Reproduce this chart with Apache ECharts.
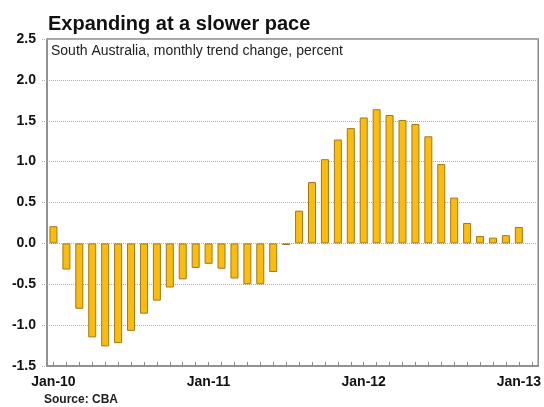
<!DOCTYPE html>
<html>
<head>
<meta charset="utf-8">
<script src="https://cdn.jsdelivr.net/npm/echarts@6/dist/echarts.min.js"></script>
<style>
  html, body { margin: 0; padding: 0; background: #fff; }
  #chart { width: 544px; height: 407px; }
</style>
</head>
<body>
<div id="chart"></div>
<script>
// Monthly categories, Jan-10 to Feb-13 (the last slot is left empty)
const months = [
  'Jan-10','Feb-10','Mar-10','Apr-10','May-10','Jun-10','Jul-10','Aug-10','Sep-10','Oct-10','Nov-10','Dec-10',
  'Jan-11','Feb-11','Mar-11','Apr-11','May-11','Jun-11','Jul-11','Aug-11','Sep-11','Oct-11','Nov-11','Dec-11',
  'Jan-12','Feb-12','Mar-12','Apr-12','May-12','Jun-12','Jul-12','Aug-12','Sep-12','Oct-12','Nov-12','Dec-12',
  'Jan-13','Feb-13'
];

// South Australia, monthly trend change, percent
const trendChange = [
  0.21, -0.32, -0.80, -1.15, -1.26, -1.22, -1.07, -0.86, -0.70, -0.54, -0.44, -0.30,
  -0.25, -0.31, -0.43, -0.50, -0.50, -0.35, -0.02, 0.40, 0.75, 1.03, 1.27, 1.41,
  1.54, 1.64, 1.57, 1.51, 1.46, 1.31, 0.97, 0.56, 0.25, 0.09, 0.07, 0.10,
  0.20, null
];

// Value axis ticks
const yTicks = [-1.5, -1.0, -0.5, 0.0, 0.5, 1.0, 1.5, 2.0, 2.5];

const FONT = 'Liberation Sans, Arial, sans-serif';
const chart = echarts.init(document.getElementById('chart'), null, { renderer: 'canvas' });

chart.setOption({
  backgroundColor: '#ffffff',
  animation: false,
  textStyle: { fontFamily: FONT },
  title: [
    {
      text: 'Expanding at a slower pace',
      left: 48, top: 14, padding: 0,
      textStyle: { fontSize: 20, fontWeight: 'bold', color: '#111', fontFamily: FONT }
    },
    {
      text: 'South Australia, monthly trend change, percent',
      left: 51, top: 44, padding: 0,
      textStyle: { fontSize: 14, fontWeight: 'normal', color: '#222', fontFamily: FONT }
    },
    {
      text: 'Source: CBA',
      left: 44, top: 394, padding: 0,
      textStyle: { fontSize: 12, fontWeight: 'bold', color: '#222', fontFamily: FONT }
    }
  ],
  grid: {
    left: 47, right: 5, top: 39, bottom: 41,
    show: true, borderColor: '#8a8a8a', borderWidth: 1.5, backgroundColor: 'transparent'
  },
  xAxis: {
    type: 'category',
    data: months,
    boundaryGap: true,
    axisLine: { show: true, onZero: false, lineStyle: { color: '#8a8a8a', width: 1.5 } },
    axisTick: {
      show: true, inside: true, length: 4, interval: 0, alignWithLabel: true,
      lineStyle: { color: '#8a8a8a', width: 1 }
    },
    axisLabel: {
      interval: function (i) { return i % 12 === 0; },
      color: '#111', fontSize: 14, fontWeight: 'bold', margin: 9,
      fontFamily: FONT
    },
    splitLine: { show: false }
  },
  yAxis: {
    type: 'value',
    min: yTicks[0], max: yTicks[yTicks.length - 1], interval: 0.5,
    axisLine: { show: true, lineStyle: { color: '#8a8a8a', width: 1.5 } },
    axisTick: { show: true, length: 6, lineStyle: { color: '#b0b0b0', type: 'dotted' } },
    axisLabel: {
      formatter: function (v) { return v.toFixed(1); },
      color: '#111', fontSize: 14, fontWeight: 'bold', margin: 11,
      fontFamily: FONT
    },
    splitLine: { show: true, lineStyle: { color: '#b0b0b0', type: 'dotted', width: 1 } }
  },
  series: [
    {
      type: 'bar',
      data: trendChange,
      barWidth: 8,
      itemStyle: { color: '#FDBB0E', borderColor: '#9c7a1c', borderWidth: 1 }
    }
  ]
});
</script>
</body>
</html>
